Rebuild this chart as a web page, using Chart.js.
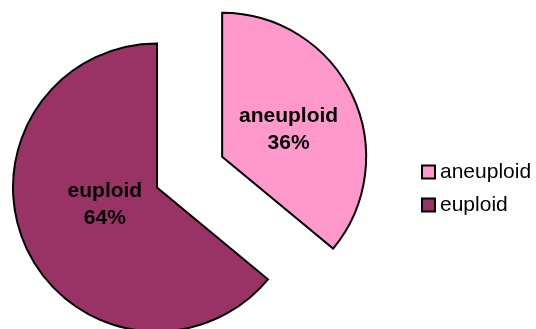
<!DOCTYPE html>
<html>
<head>
<meta charset="utf-8">
<script src="https://cdn.jsdelivr.net/npm/chart.js@4/dist/chart.umd.min.js"></script>
<style>
  html, body { margin: 0; padding: 0; background: #ffffff; }
  #wrap { width: 536px; height: 329px; position: relative; }
</style>
</head>
<body>
<div id="wrap"><canvas id="karyoChart"></canvas></div>
<script>
const categories = ['aneuploid', 'euploid'];
const percentValues = [36, 64];
const sliceColors = ['#ff99cc', '#993366'];

// how far each slice is pulled out from the centre (px)
const explodeDistance = [72, 0];
// label placement: share of radius, and a small turn (deg) away from the slice's mid angle
const labelRadius = [0.5, 0.38];
const labelTurn = [2.5, 7.5];

const fontFamily = "Arial, 'Liberation Sans', Helvetica, sans-serif";

// move pulled-out slices along their mid angle; keeps radius and edges untouched
const explodeSlices = {
  id: 'explodeSlices',
  afterDatasetsUpdate(chart) {
    const meta = chart.getDatasetMeta(0);
    meta.data.forEach((arc, i) => {
      const dist = explodeDistance[i] || 0;
      if (!dist) {
        return;
      }
      const mid = (arc.startAngle + arc.endAngle) / 2;
      arc.x += Math.cos(mid) * dist;
      arc.y += Math.sin(mid) * dist;
    });
  }
};

// "name" and "NN%" inside each slice
const sliceLabels = {
  id: 'sliceLabels',
  afterDatasetsDraw(chart) {
    const { ctx } = chart;
    const meta = chart.getDatasetMeta(0);
    ctx.save();
    ctx.fillStyle = '#000000';
    ctx.font = `bold 21px ${fontFamily}`;
    ctx.textAlign = 'center';
    ctx.textBaseline = 'middle';
    meta.data.forEach((arc, i) => {
      const angle = (arc.startAngle + arc.endAngle) / 2 + labelTurn[i] * Math.PI / 180;
      const dist = labelRadius[i] * arc.outerRadius;
      const cx = arc.x + Math.cos(angle) * dist;
      const cy = arc.y + Math.sin(angle) * dist;
      ctx.fillText(categories[i], cx, cy - 13);
      ctx.fillText(`${percentValues[i]}%`, cx, cy + 14);
    });
    ctx.restore();
  }
};

// legend on the right: bordered square + name
const sideLegend = {
  id: 'sideLegend',
  afterDraw(chart) {
    const { ctx } = chart;
    const items = Chart.overrides.pie.plugins.legend.labels.generateLabels(chart);
    const boxX = 422;
    const boxSize = 13;
    const rowY = [172, 205];
    ctx.save();
    ctx.font = `21px ${fontFamily}`;
    ctx.textAlign = 'left';
    ctx.textBaseline = 'middle';
    items.forEach((item, i) => {
      const y = rowY[i];
      ctx.fillStyle = item.fillStyle;
      ctx.fillRect(boxX, y - boxSize / 2, boxSize, boxSize);
      ctx.lineWidth = 2;
      ctx.strokeStyle = '#000000';
      ctx.strokeRect(boxX, y - boxSize / 2, boxSize, boxSize);
      ctx.fillStyle = '#000000';
      ctx.fillText(item.text, boxX + boxSize + 5, y);
    });
    ctx.restore();
  }
};

new Chart(document.getElementById('karyoChart'), {
  type: 'pie',
  data: {
    labels: categories,
    datasets: [{
      data: percentValues,
      backgroundColor: sliceColors,
      borderColor: '#000000',
      borderWidth: 2,
      borderJoinStyle: 'miter',
      hoverOffset: 0,
      clip: false
    }]
  },
  options: {
    responsive: true,
    maintainAspectRatio: false,
    animation: false,
    events: [],
    radius: 144,
    layout: { padding: { left: 0, top: 46, right: 222, bottom: 0 } },
    plugins: {
      tooltip: { enabled: false },
      legend: { display: false }
    }
  },
  plugins: [explodeSlices, sliceLabels, sideLegend]
});
</script>
</body>
</html>
